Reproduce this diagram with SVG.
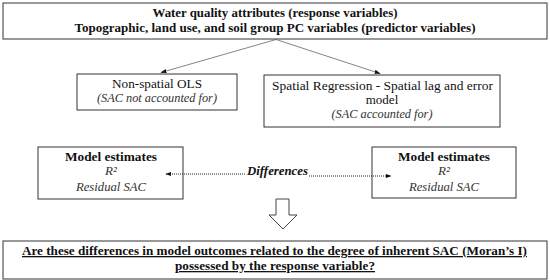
<svg xmlns="http://www.w3.org/2000/svg" width="550" height="280" viewBox="0 0 550 280" font-family="'Liberation Serif', 'DejaVu Serif', serif">
<defs>
<style>
.box{fill:#fff;stroke:#333;stroke-width:1}
text{font-family:'Liberation Serif','DejaVu Serif',serif;font-size:13px;fill:#111;text-anchor:middle}
.b{font-weight:bold}
.i{font-style:italic;fill:#333}
.u{text-decoration:underline}
.ln{stroke:#666;stroke-width:0.8;fill:none}
.dot{stroke:#222;stroke-width:1;stroke-dasharray:1,1;fill:none}
</style>
<marker id="ah" viewBox="0 0 10 10" refX="9" refY="5" markerWidth="6" markerHeight="6" markerUnits="userSpaceOnUse" orient="auto">
<path d="M0,1.5 L10,5 L0,8.5 z" fill="#111" stroke="none"/>
</marker>
</defs>
<rect width="550" height="280" fill="#fff"/>
<g id="top">
<rect class="box" x="3" y="3" width="544" height="36"/>
<text class="b" x="275" y="17" textLength="245" lengthAdjust="spacingAndGlyphs">Water quality attributes (response variables)</text>
<text class="b" x="275" y="32" textLength="401" lengthAdjust="spacingAndGlyphs">Topographic, land use, and soil group PC variables (predictor variables)</text>
</g>
<g id="ols">
<rect class="box" x="77" y="74" width="160" height="36"/>
<text x="157" y="88" textLength="90" lengthAdjust="spacingAndGlyphs">Non-spatial OLS</text>
<text class="i" x="157" y="102" textLength="120" lengthAdjust="spacingAndGlyphs">(SAC not accounted for)</text>
</g>
<g id="spatial">
<rect class="box" x="264" y="75" width="236" height="52"/>
<text x="382.5" y="90" textLength="221" lengthAdjust="spacingAndGlyphs">Spatial Regression - Spatial lag and error</text>
<text x="382" y="104">model</text>
<text class="i" x="382" y="118" textLength="101" lengthAdjust="spacingAndGlyphs">(SAC accounted for)</text>
</g>
<g id="est-left">
<rect class="box" x="38" y="147" width="145" height="52"/>
<text class="b" x="111" y="161" textLength="92" lengthAdjust="spacingAndGlyphs">Model estimates</text>
<text class="i" x="111" y="175">R²</text>
<text class="i" x="111" y="191" textLength="70" lengthAdjust="spacingAndGlyphs">Residual SAC</text>
</g>
<g id="differences">
<text class="b i" x="277.5" y="175" textLength="61" lengthAdjust="spacingAndGlyphs" style="fill:#111">Differences</text>
</g>
<g id="est-right">
<rect class="box" x="372" y="147" width="144" height="51"/>
<text class="b" x="444" y="161" textLength="92" lengthAdjust="spacingAndGlyphs">Model estimates</text>
<text class="i" x="444" y="175">R²</text>
<text class="i" x="444" y="191" textLength="70" lengthAdjust="spacingAndGlyphs">Residual SAC</text>
</g>
<g id="question">
<rect class="box" x="3" y="241" width="544" height="38"/>
<text class="b u" x="274.5" y="255" textLength="505" lengthAdjust="spacingAndGlyphs">Are these differences in model outcomes related to the degree of inherent SAC (Moran’s I)</text>
<text class="b u" x="275" y="270" textLength="200" lengthAdjust="spacingAndGlyphs">possessed by the response variable?</text>
</g>
<g id="connectors">
<path class="ln" d="M276,39.5 L161,72.5" marker-end="url(#ah)"/>
<path class="ln" d="M276,39.5 L380,73.5" marker-end="url(#ah)"/>
<path class="dot" d="M245,174 L166,174" marker-end="url(#ah)"/>
<path class="dot" d="M309,176 L391,176" marker-end="url(#ah)"/>
<polygon points="276,199 289,199 289,215 297,215 283,229 269,215 276,215" fill="#fff" stroke="#444" stroke-width="1"/>
</g>
</svg>
